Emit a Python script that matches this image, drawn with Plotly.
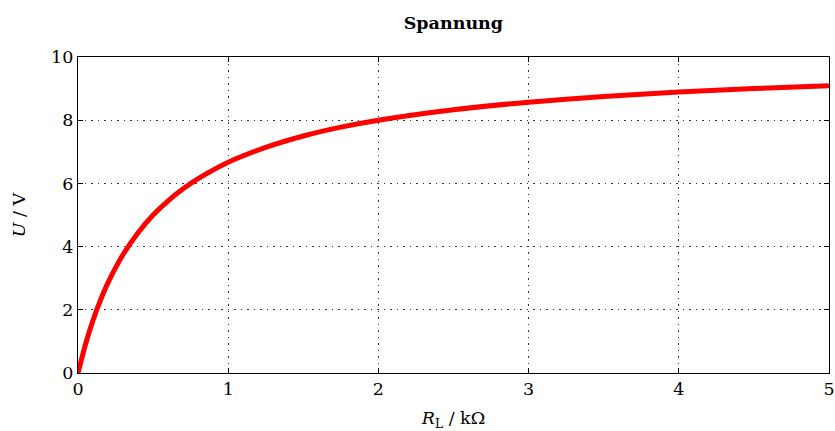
import plotly.graph_objects as go

# Load resistance (kOhm) and the voltage across it (V)
r_load = [0, 0.05, 0.1, 0.15, 0.2, 0.3, 0.4, 0.5, 0.6, 0.7, 0.8, 1.0,
          1.25, 1.5, 1.75, 2.0, 2.5, 3.0, 3.5, 4.0, 4.5, 5.0]
voltage = [0, 0.91, 1.67, 2.31, 2.86, 3.75, 4.44, 5.0, 5.45, 5.83, 6.15, 6.67,
           7.14, 7.5, 7.78, 8.0, 8.33, 8.57, 8.75, 8.89, 9.0, 9.09]

x_ticks = [0, 1, 2, 3, 4, 5]
y_ticks = [0, 2, 4, 6, 8, 10]

font_family = "DejaVu Serif, Liberation Serif, serif"

fig = go.Figure()
fig.add_trace(go.Scatter(
    x=r_load, y=voltage, mode="lines",
    line=dict(color="#ff0000", width=5, shape="spline", smoothing=0.6),
    showlegend=False, hoverinfo="skip", cliponaxis=False,
))

axis_common = dict(
    showline=True, linecolor="black", linewidth=1.2, mirror="ticks",
    ticks="inside", ticklen=5, tickcolor="black", tickwidth=1,
    showgrid=True, gridcolor="#333333", griddash="1.5px,5px", gridwidth=1.2,
    zeroline=False, automargin=False,
    tickfont=dict(size=17.5, color="black", family=font_family),
)

fig.update_layout(
    width=835, height=431,
    margin=dict(l=78, r=6, t=57, b=58),
    paper_bgcolor="white", plot_bgcolor="white",
    font=dict(family=font_family, color="black"),
    title=dict(text="<b>Spannung</b>", x=0.543, xanchor="center",
               y=0.948, yanchor="middle", font=dict(size=17.5)),
    xaxis=dict(range=[0, 5], tickvals=x_ticks, ticktext=[str(v) for v in x_ticks],
               title=dict(text="<i>R</i><sub>L</sub> / kΩ", font=dict(size=17.5), standoff=14),
               **axis_common),
    yaxis=dict(range=[0, 10], tickvals=y_ticks, ticktext=[str(v) for v in y_ticks],
               title=dict(text="<i>U</i> / V", font=dict(size=17.5), standoff=20),
               **axis_common),
)

fig.write_html("out.html")
